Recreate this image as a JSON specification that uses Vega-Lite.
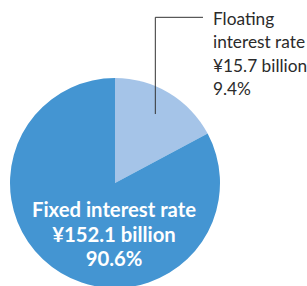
{
  "$schema": "https://vega.github.io/schema/vega-lite/v6.json",
  "width": 230,
  "height": 206,
  "padding": {"left": 0, "top": 80, "right": 77, "bottom": 0},
  "autosize": {"type": "none"},
  "background": "white",
  "config": {"view": {"stroke": null}},
  "datasets": {
    "slices": [
      {"category": "Floating interest rate", "amount": 15.7, "pct": 9.4, "drawn": 17.2, "rank": 1, "label": "Floating\ninterest rate\n¥15.7 billion\n9.4%"},
      {"category": "Fixed interest rate", "amount": 152.1, "pct": 90.6, "drawn": 82.8, "rank": 2, "label": "Fixed interest rate\n¥152.1 billion\n90.6%"}
    ],
    "leader": [
      {"px": 0.838, "py": 1.578, "step": 1},
      {"px": 0.384, "py": 1.578, "step": 2},
      {"px": 0.384, "py": 0.657, "step": 3}
    ]
  },
  "layer": [
    {
      "data": {"name": "slices"},
      "mark": {"type": "arc", "outerRadius": 105},
      "encoding": {
        "theta": {"field": "drawn", "type": "quantitative", "stack": true},
        "order": {"field": "rank", "type": "quantitative"},
        "color": {
          "field": "category",
          "type": "nominal",
          "scale": {"domain": ["Floating interest rate", "Fixed interest rate"], "range": ["#a5c4e8", "#4495d2"]},
          "legend": null
        }
      }
    },
    {
      "data": {"name": "leader"},
      "mark": {"type": "line", "color": "#333333", "strokeWidth": 1},
      "encoding": {
        "x": {"field": "px", "type": "quantitative", "scale": {"domain": [-1.0952, 1.0952], "nice": false, "zero": false}, "axis": null},
        "y": {"field": "py", "type": "quantitative", "scale": {"domain": [-0.981, 0.981], "nice": false, "zero": false}, "axis": null},
        "order": {"field": "step", "type": "quantitative"}
      }
    },
    {
      "data": {"name": "slices"},
      "transform": [{"filter": "datum.rank == 2"}],
      "mark": {"type": "text", "radius": 0, "align": "center", "baseline": "alphabetic", "dx": -1, "dy": 34, "lineBreak": "\n", "lineHeight": 24.5, "font": "Lato", "fontWeight": "bold", "fontSize": 20.3, "color": "white"},
      "encoding": {
        "theta": {"field": "drawn", "type": "quantitative", "stack": true},
        "text": {"field": "label", "type": "nominal"}
      }
    },
    {
      "data": {"name": "slices"},
      "transform": [{"filter": "datum.rank == 1"}],
      "mark": {"type": "text", "radius": 0, "align": "left", "baseline": "alphabetic", "dx": 98, "dy": -158, "lineBreak": "\n", "lineHeight": 23.3, "font": "Lato", "fontSize": 17.3, "color": "#2b2b2b"},
      "encoding": {
        "theta": {"field": "drawn", "type": "quantitative", "stack": true},
        "text": {"field": "label", "type": "nominal"}
      }
    }
  ]
}
